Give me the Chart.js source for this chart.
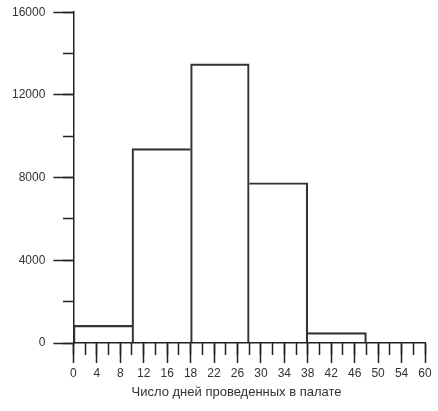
<!DOCTYPE html>
<html>
<head>
<meta charset="utf-8">
<script src="https://cdn.jsdelivr.net/npm/chart.js@4/dist/chart.umd.min.js"></script>
<style>
  html, body { margin: 0; padding: 0; background: #fff; }
  #wrap { width: 438px; height: 411px; }
</style>
</head>
<body>
<div id="wrap"><canvas id="hist"></canvas></div>
<script>
// данные гистограммы (интервалы по 10 дней)
const binCenters = [5, 15, 25, 35, 45];
const patientCounts = [850, 9400, 13500, 7750, 500];
// подписи оси X так, как они напечатаны на оригинале
const xTickLabels = ['0', '4', '8', '12', '16', '18', '22', '26', '30', '34', '38', '42', '46', '50', '54', '60'];
const xTitle = 'Число дней проведенных в палате';

Chart.defaults.font.family = '"Liberation Sans", Arial, sans-serif';
Chart.defaults.font.size = 12;
Chart.defaults.color = '#333';

const axisColor = '#222';
const lineW = 1.5;

// общую границу соседних столбцов рисует только более высокий столбец
function barBorder(ctx) {
    const i = ctx.dataIndex;
    const v = patientCounts[i];
    const prev = i > 0 ? patientCounts[i - 1] : 0;
    const next = i < patientCounts.length - 1 ? patientCounts[i + 1] : 0;
    return { top: lineW, bottom: 0, left: prev <= v ? lineW : 0, right: next < v ? lineW : 0 };
}

new Chart(document.getElementById('hist'), {
    type: 'bar',
    data: {
        datasets: [{
            data: binCenters.map((x, i) => ({ x: x, y: patientCounts[i] })),
            xAxisID: 'xb',
            yAxisID: 'y',
            backgroundColor: 'rgba(0,0,0,0)',
            borderColor: '#333',
            borderWidth: barBorder,
            borderSkipped: false,
            barPercentage: 1,
            categoryPercentage: 1
        }]
    },
    options: {
        responsive: true,
        maintainAspectRatio: false,
        animation: false,
        layout: { padding: { left: 4, right: 13, top: 3, bottom: 11 } },
        plugins: { legend: { display: false }, tooltip: { enabled: false } },
        scales: {
            // скрытая ось для ширины столбцов
            xb: {
                type: 'linear', display: false, min: 0, max: 60, offset: false,
                grid: { offset: false }, ticks: { stepSize: 10 }
            },
            x: {
                type: 'linear', position: 'bottom', min: 0, max: 60, offset: false,
                grid: { offset: false, drawOnChartArea: false, tickLength: 20, tickColor: axisColor, tickWidth: lineW },
                border: { color: axisColor, width: lineW },
                ticks: {
                    stepSize: 4, padding: 3, maxRotation: 0, autoSkip: false,
                    callback: (v, i) => xTickLabels[i]
                },
                title: { display: true, text: xTitle + '       ', font: { size: 13 }, padding: { top: 1, bottom: 0 } }
            },
            xm: {
                type: 'linear', position: { y: 0 }, min: 0, max: 60, offset: false,
                grid: { offset: false, drawOnChartArea: false, tickLength: 12, tickColor: axisColor, tickWidth: lineW },
                border: { display: false },
                ticks: { stepSize: 2, display: false }
            },
            y: {
                type: 'linear', position: 'left', min: 0, max: 16000,
                grid: { drawOnChartArea: false, tickLength: 20, tickColor: axisColor, tickWidth: lineW },
                border: { color: axisColor, width: lineW },
                ticks: { stepSize: 4000, padding: 8, font: { lineHeight: 0.7 }, callback: v => String(v) }
            },
            ym: {
                type: 'linear', position: { x: 0 }, min: 0, max: 16000,
                grid: { drawOnChartArea: false, tickLength: 10, tickColor: axisColor, tickWidth: lineW },
                border: { display: false },
                ticks: { stepSize: 2000, display: false }
            }
        }
    }
});
</script>
</body>
</html>
